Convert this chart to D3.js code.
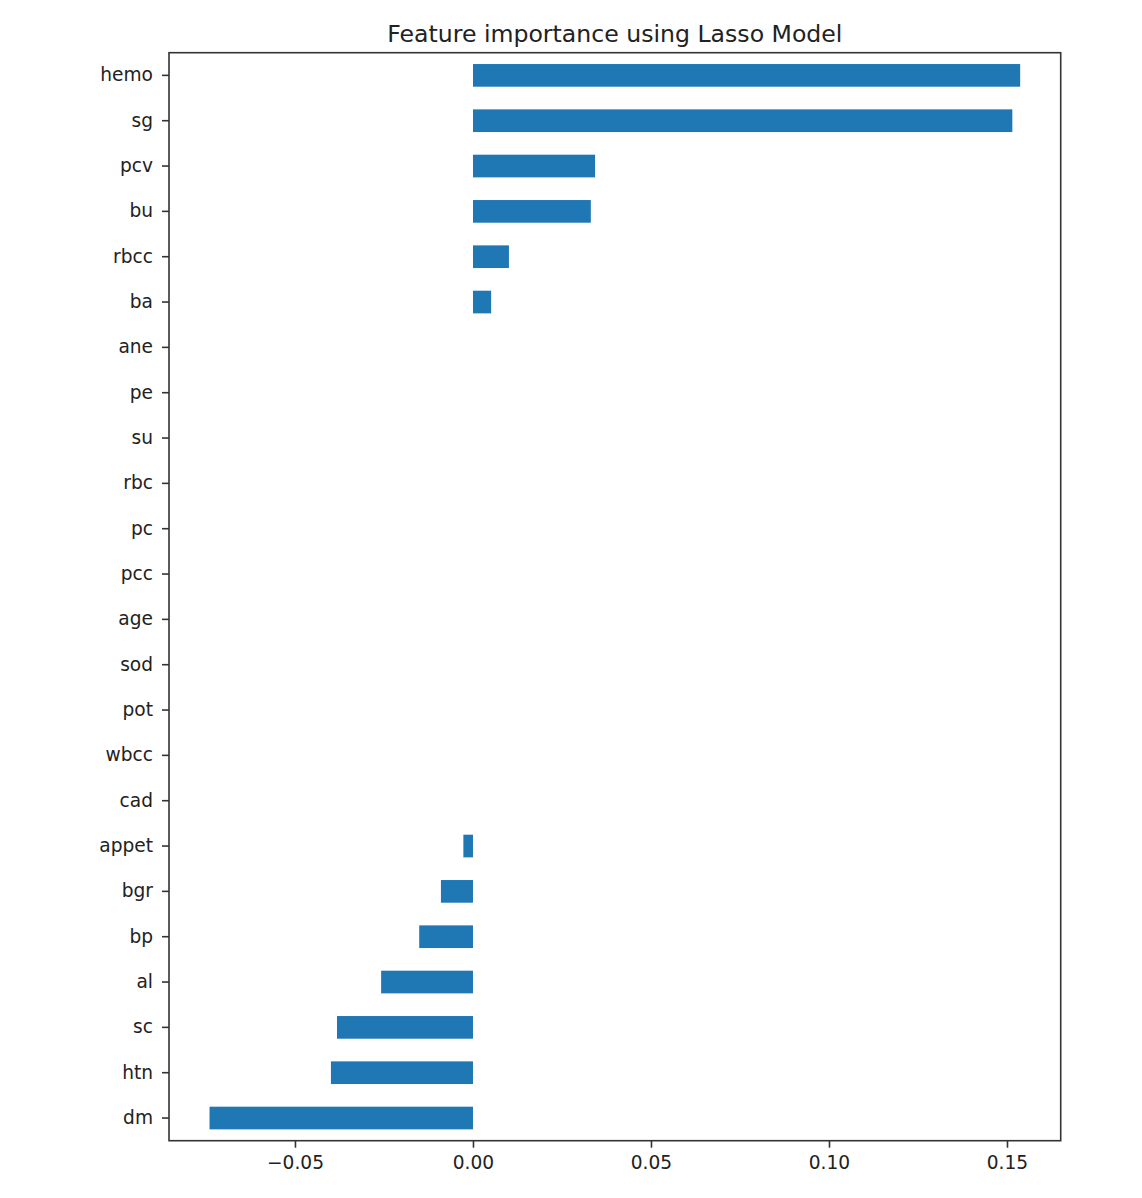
<!DOCTYPE html>
<html>
<head>
<meta charset="utf-8">
<script src="https://cdn.jsdelivr.net/npm/d3@7"></script>
<style>
  body { margin: 0; background: #fff; }
  svg text { font-family: "DejaVu Sans", sans-serif; fill: #222; }
</style>
</head>
<body>
<div id="chart"></div>
<script>
// features from top to bottom, with their lasso coefficients
var features = ["hemo", "sg", "pcv", "bu", "rbcc", "ba", "ane", "pe", "su", "rbc", "pc", "pcc",
                "age", "sod", "pot", "wbcc", "cad", "appet", "bgr", "bp", "al", "sc", "htn", "dm"];
var coefs = [0.1537, 0.1515, 0.0343, 0.0331, 0.0101, 0.0051, 0, 0, 0, 0, 0, 0,
             0, 0, 0, 0, 0, -0.0027, -0.0090, -0.0151, -0.0258, -0.0382, -0.0399, -0.0740];
var xTicks = [-0.05, 0.00, 0.05, 0.10, 0.15];
var xTickLabels = ["\u22120.05", "0.00", "0.05", "0.10", "0.15"];

var data = features.map(function (f, i) { return { name: f, value: coefs[i] }; });

// plot box
var margin = { top: 52.7, right: 81.3, bottom: 57.3, left: 169 },
    width = 1142 - margin.left - margin.right,
    height = 1198 - margin.top - margin.bottom;

var svg = d3.select("#chart").append("svg")
    .attr("width", 1142)
    .attr("height", 1198);

var g = svg.append("g")
    .attr("transform", "translate(" + margin.left + "," + margin.top + ")");

// x domain padded 5% like matplotlib autoscale
var lo = d3.min(coefs), hi = d3.max(coefs), pad = (hi - lo) * 0.05;
var x = d3.scaleLinear().domain([lo - pad, hi + pad]).range([0, width]);
var y = d3.scaleBand().domain(features).range([0, height]).paddingInner(0.5).paddingOuter(0.25);

// bars
g.selectAll("rect.bar")
    .data(data)
    .enter().append("rect")
    .attr("class", "bar")
    .attr("x", function (d) { return x(Math.min(0, d.value)); })
    .attr("y", function (d) { return y(d.name); })
    .attr("width", function (d) { return Math.abs(x(d.value) - x(0)); })
    .attr("height", y.bandwidth())
    .attr("fill", "#1f77b4");

// frame
g.append("rect")
    .attr("width", width)
    .attr("height", height)
    .attr("fill", "none")
    .attr("stroke", "#333")
    .attr("stroke-width", 1.6);

// x axis
var xAxis = g.append("g")
    .attr("transform", "translate(0," + height + ")")
    .call(d3.axisBottom(x).tickValues(xTicks).tickSize(7).tickPadding(8)
        .tickFormat(function (d, i) { return xTickLabels[i]; }));
xAxis.select(".domain").remove();
xAxis.selectAll("line").attr("stroke", "#333").attr("stroke-width", 1.6);
xAxis.selectAll("text").attr("font-size", "18.6px").attr("fill", "#222");

// y axis
var yAxis = g.append("g")
    .call(d3.axisLeft(y).tickSize(7).tickPadding(9));
yAxis.select(".domain").remove();
yAxis.selectAll("line").attr("stroke", "#333").attr("stroke-width", 1.6);
yAxis.selectAll("text").attr("font-size", "18.6px").attr("fill", "#222");

// title
svg.append("text")
    .attr("x", margin.left + width / 2)
    .attr("y", 42)
    .attr("text-anchor", "middle")
    .attr("font-size", "23.6px")
    .text("Feature importance using Lasso Model");
</script>
</body>
</html>
